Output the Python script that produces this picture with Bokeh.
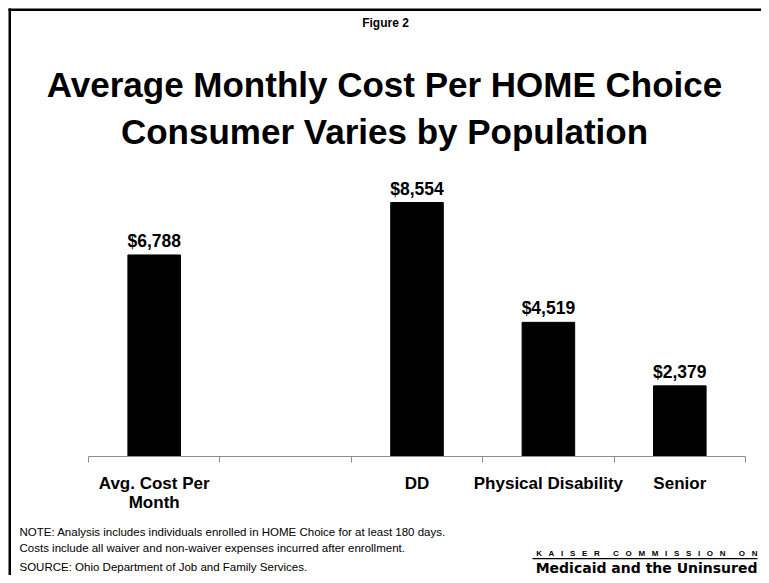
from bokeh.plotting import figure
from bokeh.models import Range1d, FixedTicker, ColumnDataSource, Label, BoxAnnotation
from bokeh.core.properties import value
from bokeh.embed import file_html
from bokeh.resources import INLINE

# ---- data ----
categories = ["Avg. Cost Per\nMonth", "", "DD", "Physical Disability", "Senior"]
costs = [6788, None, 8554, 4519, 2379]
title_lines = ["Average Monthly Cost Per HOME Choice", "Consumer Varies by Population"]
figure_label = "Figure 2"
notes = ["NOTE: Analysis includes individuals enrolled in HOME Choice for at least 180 days.",
         "Costs include all waiver and non-waiver expenses incurred after enrollment."]
source_note = "SOURCE: Ohio Department of Job and Family Services."
logo_words = ["KAISER", "COMMISSION", "ON"]
logo_bottom = "Medicaid and the Uninsured"

FONT = "Liberation Sans"
NB = "\u00a0"
W, H = 761, 575
AX_LEFT, AX_RIGHT, AX_Y = 88, 745, 456     # plot area placement (px)
PX_PER_UNIT = 0.02969                       # vertical scale, px per dollar

cw = (AX_RIGHT - AX_LEFT) / len(categories)
centers = [i + 0.5 for i in range(len(categories))]
bx = [c for c, v in zip(centers, costs) if v is not None]
by = [v for v in costs if v is not None]
btxt = ["${:,}".format(v) for v in by]
src = ColumnDataSource(dict(x=bx, top=by, label=btxt))

# the plot frame fills the whole canvas; the axis is pinned at y = 0
p = figure(width=W, height=H, output_backend="svg", toolbar_location=None,
           x_range=Range1d(-AX_LEFT / cw, len(categories) + (W - AX_RIGHT) / cw),
           y_range=Range1d(-(H - AX_Y) / PX_PER_UNIT, AX_Y / PX_PER_UNIT),
           y_axis_location=None, min_border=0)
p.outline_line_color = None
p.xgrid.visible = False
p.ygrid.visible = False
p.background_fill_color = "white"
p.border_fill_color = "white"

p.vbar(x="x", top="top", width=0.4, source=src, color="black")
p.text(x="x", y="top", text="label", source=src, text_align="center", text_baseline="bottom",
       y_offset=-4, text_font=value(FONT), text_font_style="bold", text_font_size="17.5px",
       text_color="black")

ax = p.xaxis[0]
ax.fixed_location = 0
ax.bounds = (0, len(categories))
ax.ticker = FixedTicker(ticks=centers, minor_ticks=list(range(len(categories) + 1)))
ax.major_label_overrides = {c: lab for c, lab in zip(centers, categories)}
ax.major_tick_out = 0
ax.major_tick_in = 0
ax.minor_tick_out = 6
ax.minor_tick_in = 0
ax.minor_tick_line_color = "#8c8c8c"
ax.axis_line_color = "#8c8c8c"
ax.major_label_text_font = FONT
ax.major_label_text_font_style = "bold"
ax.major_label_text_font_size = "17px"
ax.major_label_text_line_height = 1.05
ax.major_label_text_color = "black"
ax.major_label_standoff = 11


def lab(text, x, y, size, bold=False, align="center", font=FONT):
    p.add_layout(Label(x=x, y=y, x_units="canvas", y_units="canvas", text=text,
                       text_font=font, text_font_size=size,
                       text_font_style="bold" if bold else "normal",
                       text_align=align, text_baseline="middle", text_color="black"))


def box(l, r, t, b):
    p.add_layout(BoxAnnotation(left=l, right=r, top=t, bottom=b,
                               left_units="canvas", right_units="canvas",
                               top_units="canvas", bottom_units="canvas",
                               fill_color="black", fill_alpha=1, line_color=None))


lab(figure_label, 385, 22, "12px", bold=True)
lab(title_lines[0], 384, 84, "35px", bold=True)
lab(title_lines[1], 384, 131, "35px", bold=True)
lab(notes[0], 19, 531, "11.5px", align="left")
lab(notes[1], 19, 547, "11.5px", align="left")
lab(source_note, 19, 566, "11.5px", align="left")
logo_top = (NB * 6).join((NB * 3).join(w) for w in logo_words)
lab(logo_top, 757, 553, "8px", bold=True, align="right")
box(532, 757, 557.5, 558.8)
lab(logo_bottom, 757, 567, "14px", bold=True, align="right", font="DejaVu Sans")

# slide frame: top and left edges
box(8, W, 8, 10.5)
box(8, 10.5, 8, H)

open("out.html", "w").write(file_html(p, INLINE))
